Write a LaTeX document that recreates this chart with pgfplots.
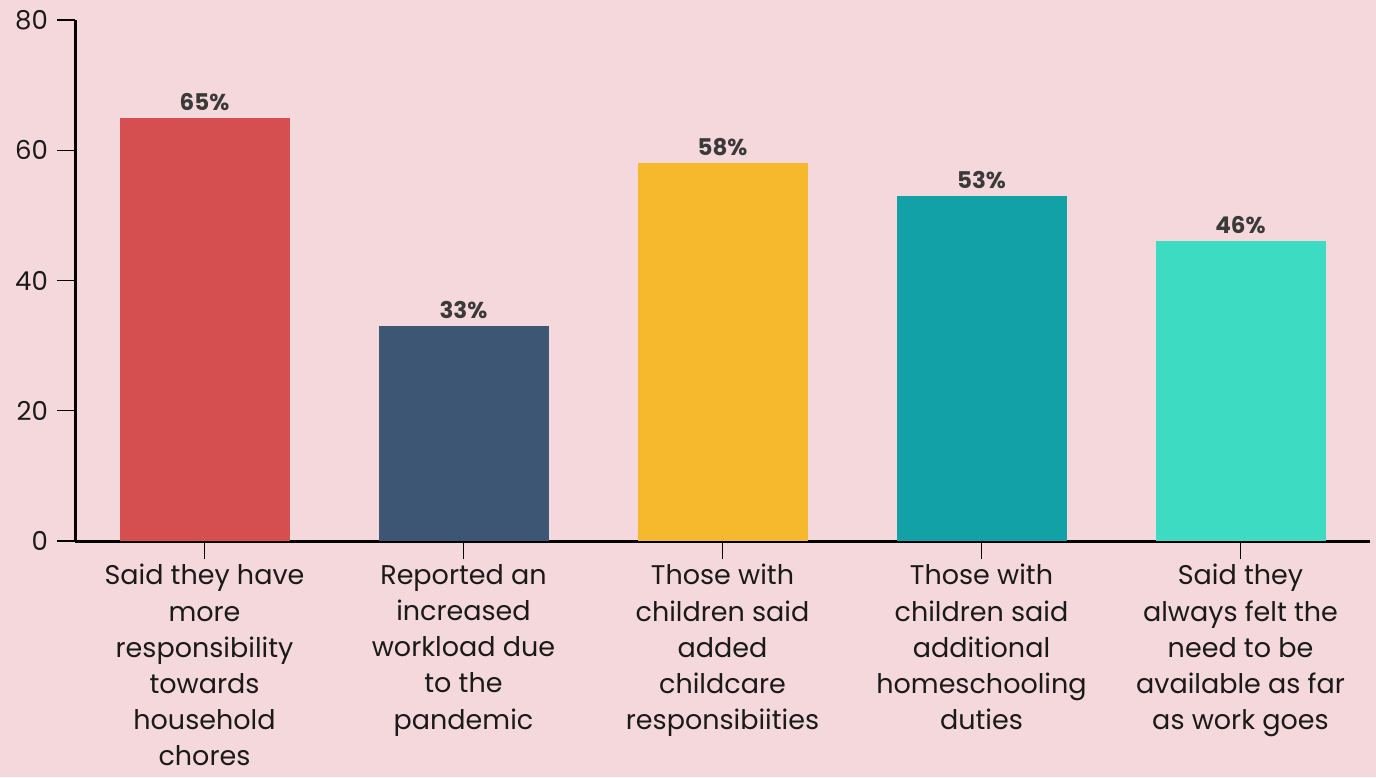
\documentclass[border=0pt]{standalone}
\usepackage{pgfplots}
\pgfplotsset{compat=1.18}
\usepackage{fontspec}
\setmainfont{Poppins}
\definecolor{bg}{HTML}{F5D8DB}
\definecolor{cRed}{HTML}{D54E50}
\definecolor{cNavy}{HTML}{3D5673}
\definecolor{cYellow}{HTML}{F6B92D}
\definecolor{cTeal}{HTML}{12A1A6}
\definecolor{cMint}{HTML}{3DDCC2}
\definecolor{txt}{HTML}{1A1A1A}
\definecolor{lbl}{HTML}{3A3A3A}
\begin{document}
\begin{tikzpicture}
% page background, also fixes the picture size
\fill[bg] (-37.5pt,-118pt) rectangle (650.5pt,270.5pt);
\useasboundingbox (-37.5pt,-118pt) rectangle (650.5pt,270.5pt);
\begin{axis}[
  at={(0,0)}, anchor=south west,
  scale only axis,
  width=647.5pt, height=260.5pt,
  xmin=-0.5, xmax=4.5,
  ymin=0, ymax=80,
  axis x line*=bottom, axis y line*=left,
  axis line style={line width=1.5pt, black, -},
  ytick={0,20,40,60,80},
  xtick={0,1,2,3,4},
  xticklabels={
    {Said they have\\more\\responsibility\\towards\\household\\chores},
    {Reported an\\increased\\workload due\\to the\\pandemic},
    {Those with\\children said\\added\\childcare\\responsibiities},
    {Those with\\children said\\additional\\homeschooling\\duties},
    {Said they\\always felt the\\need to be\\available as far\\as work goes}},
  tick align=outside,
  major tick length=9pt,
  tick style={line width=0.7pt, black},
  xticklabel style={align=center, font=\fontsize{13.5}{18.1}\selectfont, text=txt, inner sep=1pt, yshift=-1.5pt},
  yticklabel style={font=\fontsize{13}{15}\selectfont, text=txt, xshift=-1pt},
  /pgf/number format/assume math mode=true,
  ybar, bar width=85pt, bar shift=0pt,
  nodes near coords={\pgfmathprintnumber{\pgfplotspointmeta}\%},
  nodes near coords style={font=\fontsize{11.5}{13}\selectfont\bfseries, text=lbl, inner sep=3.5pt},
  clip=false,
]
\addplot[fill=cRed, draw=none] coordinates {(0,65)};
\addplot[fill=cNavy, draw=none] coordinates {(1,33)};
\addplot[fill=cYellow, draw=none] coordinates {(2,58)};
\addplot[fill=cTeal, draw=none] coordinates {(3,53)};
\addplot[fill=cMint, draw=none] coordinates {(4,46)};
\end{axis}
\end{tikzpicture}
\end{document}
